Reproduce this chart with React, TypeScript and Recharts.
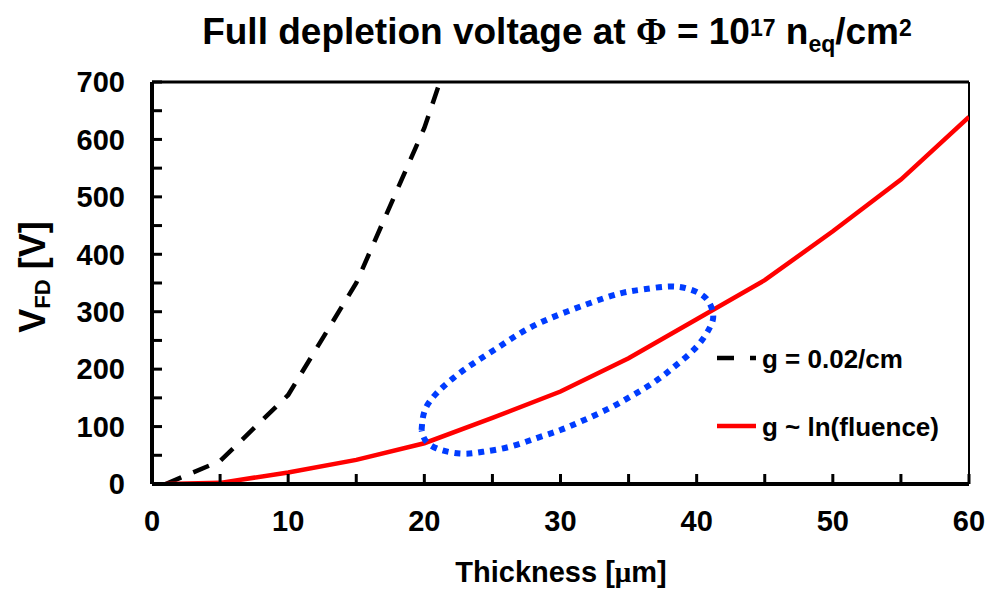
import { LineChart, Line, XAxis, YAxis, ReferenceLine } from "recharts";

// g = 0.02/cm (constant introduction rate)
const thicknessConst = [1, 5, 10, 15, 20, 25];
const vfdConst = [0, 40, 155, 350, 620, 970];

// g ~ ln(fluence)
const thicknessLn = [1, 5, 10, 15, 20, 25, 30, 35, 40, 45, 50, 55, 60];
const vfdLn = [0, 2, 20, 42, 71, 115, 161, 219, 287, 355, 440, 530, 639];

// dotted blue ellipse highlighting the 20-40 um region
const ellipseX = [
  19.8, 20.05, 20.9, 22.1, 23.6, 25.3, 27.0, 28.7, 30.45, 32.4, 34.4, 36.1, 38.0, 39.5, 40.7,
  41.2, 41.0, 40.0, 38.5, 37.1, 35.35, 33.6, 31.7, 30.0, 28.25, 26.3, 24.3, 22.6, 20.9, 20.05, 19.8,
];
const ellipseV = [
  94, 129, 158, 184, 210, 236, 262, 283, 300, 317, 332, 339, 344, 339, 323,
  297, 274, 239, 207, 181, 155, 132, 111, 94, 80, 65, 56, 53, 62, 77, 94,
];

const xTicks = [0, 5, 10, 15, 20, 25, 30, 35, 40, 45, 50, 55, 60];
const yTicks = [0, 50, 100, 150, 200, 250, 300, 350, 400, 450, 500, 550, 600, 650, 700];

const constData = thicknessConst.map((t, i) => ({ t, v: vfdConst[i] }));
const lnData = thicknessLn.map((t, i) => ({ t, v: vfdLn[i] }));
const ellipseData = ellipseX.map((t, i) => ({ t, v: ellipseV[i] }));

const font = "'Liberation Sans', Arial, Helvetica, sans-serif";
const serif = "'Liberation Serif', 'Times New Roman', serif";
const tickStyle = { fontSize: 29, fontWeight: 700, fill: "#000", fontFamily: font };

export default function App() {
  return (
    <div style={{ position: "absolute", left: 0, top: 0, width: 988, height: 592, background: "#fff" }}>
      <LineChart width={988} height={592} margin={{ top: 82, right: 19, bottom: 78, left: 92 }}>
        <XAxis
          dataKey="t"
          type="number"
          domain={[0, 60]}
          ticks={xTicks}
          interval={0}
          tickFormatter={(v) => (v % 10 === 0 ? String(v) : "")}
          tick={tickStyle}
          stroke="#000"
          tickSize={-10}
          tickMargin={36}
          tickLine={{ stroke: "#000", strokeWidth: 3 }}
          axisLine={{ stroke: "#000", strokeWidth: 4 }}
          allowDataOverflow
        />
        <YAxis
          type="number"
          domain={[0, 700]}
          ticks={yTicks}
          interval={0}
          tickFormatter={(v) => (v % 100 === 0 ? String(v) : "")}
          tick={tickStyle}
          stroke="#000"
          tickSize={-10}
          tickMargin={37}
          tickLine={{ stroke: "#000", strokeWidth: 3 }}
          axisLine={{ stroke: "#000", strokeWidth: 4 }}
          allowDataOverflow
        />
        <ReferenceLine y={700} stroke="#000" strokeWidth={3} />
        <ReferenceLine x={60} stroke="#000" strokeWidth={2} />
        <Line
          data={constData}
          dataKey="v"
          type="linear"
          stroke="#000"
          strokeWidth={4.5}
          strokeDasharray="17 13"
          dot={false}
          activeDot={false}
          isAnimationActive={false}
        />
        <Line
          data={lnData}
          dataKey="v"
          type="linear"
          stroke="#ff0000"
          strokeWidth={4.5}
          dot={false}
          activeDot={false}
          isAnimationActive={false}
        />
        <Line
          data={ellipseData}
          dataKey="v"
          type="natural"
          stroke="#003cff"
          strokeWidth={6}
          strokeDasharray="6 6"
          dot={false}
          activeDot={false}
          isAnimationActive={false}
        />
      </LineChart>
      <svg
        width={988}
        height={592}
        style={{ position: "absolute", left: 0, top: 0, pointerEvents: "none" }}
        fontFamily={font}
        fontWeight={700}
      >
        <text x={557} y={44} textAnchor="middle" fontSize={37}>
          Full depletion voltage at <tspan fontFamily={serif}>Φ</tspan>
          <tspan> = 10</tspan>
          <tspan fontSize={23} dy={-8}>17</tspan>
          <tspan dy={8}> n</tspan>
          <tspan fontSize={23} dy={8}>eq</tspan>
          <tspan dy={-8}>/cm</tspan>
          <tspan fontSize={23} dy={-8}>2</tspan>
        </text>
        <text x={561} y={582} textAnchor="middle" fontSize={29}>
          Thickness [<tspan fontFamily={serif}>μ</tspan>m]
        </text>
        <text transform="translate(45 277) rotate(-90)" textAnchor="middle" fontSize={36}>
          V<tspan fontSize={22} dy={5}>FD</tspan>
          <tspan dy={-5}> [V]</tspan>
        </text>
        <line x1={717} y1={358} x2={756} y2={358} stroke="#000" strokeWidth={4.5} strokeDasharray="17 16" />
        <text x={762} y={368} fontSize={26}>g = 0.02/cm</text>
        <line x1={717} y1={426} x2={756} y2={426} stroke="#ff0000" strokeWidth={4.5} />
        <text x={762} y={436} fontSize={26}>g ~ ln(fluence)</text>
      </svg>
    </div>
  );
}
